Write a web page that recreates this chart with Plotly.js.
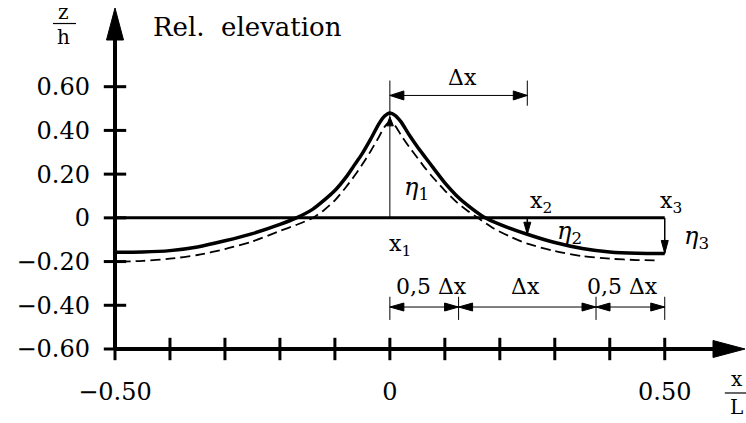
<!DOCTYPE html>
<html>
<head>
<meta charset="utf-8">
<script src="https://cdn.plot.ly/plotly-3.0.1.min.js"></script>
<style>
  html, body { margin: 0; padding: 0; background: #ffffff; }
  #chart { width: 746px; height: 423px; }
</style>
</head>
<body>
<div id="chart"></div>
<script>
// Relative elevation z/h along the reach x/L

// Solid profile (heavy line)
const profileX = [-0.50, -0.45, -0.40, -0.35, -0.30, -0.25, -0.20, -0.17, -0.14, -0.12, -0.10, -0.08, -0.065, -0.05,
                  -0.035, -0.02, -0.01, 0.0, 0.01, 0.02, 0.035, 0.05, 0.065, 0.08, 0.10, 0.12, 0.14, 0.17,
                  0.20, 0.25, 0.30, 0.35, 0.40, 0.45, 0.50];
const profileZ = [-0.157, -0.156, -0.150, -0.133, -0.105, -0.072, -0.030, 0.0, 0.04, 0.08, 0.125, 0.185, 0.24, 0.295,
                  0.36, 0.43, 0.465, 0.48, 0.468, 0.44, 0.38, 0.325, 0.275, 0.225, 0.16, 0.105, 0.06, 0.005,
                  -0.03, -0.075, -0.113, -0.14, -0.156, -0.162, -0.163];

// Dashed profile
const dashedX = [-0.49, -0.45, -0.40, -0.35, -0.30, -0.25, -0.20, -0.17, -0.14, -0.12, -0.10, -0.08, -0.065, -0.05,
                 -0.035, -0.02, -0.01, 0.0, 0.01, 0.02, 0.035, 0.05, 0.065, 0.08, 0.10, 0.12, 0.14, 0.16,
                 0.19, 0.22, 0.25, 0.30, 0.35, 0.40, 0.45, 0.49];
const dashedZ = [-0.200, -0.197, -0.187, -0.170, -0.143, -0.108, -0.060, -0.032, 0.0, 0.035, 0.08, 0.14, 0.19, 0.245,
                 0.305, 0.37, 0.415, 0.44, 0.42, 0.38, 0.325, 0.275, 0.225, 0.18, 0.125, 0.075, 0.035, 0.0,
                 -0.05, -0.087, -0.118, -0.152, -0.175, -0.187, -0.193, -0.195];

// Still-water datum
const datumX = [-0.50, 0.50];
const datumZ = [0, 0];

// Axis ticks and labels
const xTicks = [-0.5, -0.4, -0.3, -0.2, -0.1, 0, 0.1, 0.2, 0.3, 0.4, 0.5];
const xLabelVals = [-0.5, 0, 0.5];
const xLabels = ['\u22120.50', '0', '0.50'];
const yTicks = [-0.6, -0.4, -0.2, 0, 0.2, 0.4, 0.6];
const yLabels = ['\u22120.60', '\u22120.40', '\u22120.20', '0', '0.20', '0.40', '0.60'];

// Stations and spacing
const stationX1 = 0;
const deltaX = 0.25;
const stationX2 = stationX1 + deltaX;
const stationX3 = stationX2 + deltaX;
const eta1Tip = 0.462;
const eta2Tip = profileZ[profileX.indexOf(stationX2)];
const eta3Tip = profileZ[profileX.indexOf(stationX3)];

const X_MIN = -0.5, X_MAX = 0.646;
const Y_MIN = -0.6, Y_MAX = 0.96;

const FONT = 'DejaVu Serif';
const BLACK = '#000000';

// Dimension line levels
const topDimY = 0.56, topExtTop = 0.628, topExtBottom = 0.513;
const botDimY = -0.408, botExtTop = -0.361, botExtBottom = -0.467;
const botMarks = [stationX1, stationX1 + 0.5 * deltaX, stationX2 + 0.5 * deltaX, stationX3];

// Filled arrowhead drawn in pixel units around an anchor point
function arrowHead(xa, ya, dir, len, half, xref, yref) {
  const paths = {
    up:    `M0,0 L${-half},${-len} L${half},${-len} Z`,
    down:  `M0,0 L${-half},${len} L${half},${len} Z`,
    left:  `M0,0 L${len},${-half} L${len},${half} Z`,
    right: `M0,0 L${-len},${-half} L${-len},${half} Z`
  };
  return {
    type: 'path', xref: xref || 'x', yref: yref || 'y',
    xsizemode: 'pixel', ysizemode: 'pixel', xanchor: xa, yanchor: ya,
    path: paths[dir], fillcolor: BLACK, line: { color: BLACK, width: 1 }
  };
}

function seg(x0, y0, x1, y1, w, xref, yref) {
  return { type: 'line', xref: xref || 'x', yref: yref || 'y', x0: x0, y0: y0, x1: x1, y1: y1,
           line: { color: BLACK, width: w } };
}

const shapes = [
  // axes with arrows
  seg(0, 0, 0.965, 0, 4, 'paper', 'paper'),
  seg(0, 0, 0, 0.95, 4, 'paper', 'paper'),
  arrowHead(1, 0, 'right', 32, 8.5, 'paper', 'paper'),
  arrowHead(0, 1, 'up', 32, 8.5, 'paper', 'paper'),
  // eta1 and the Δx dimension above the crest
  seg(stationX1, 0, stationX1, topExtTop, 1),
  arrowHead(stationX1, eta1Tip, 'up', 9, 3.5),
  seg(stationX2, topExtBottom, stationX2, topExtTop, 1),
  seg(stationX1, topDimY, stationX2, topDimY, 1),
  arrowHead(stationX1, topDimY, 'left', 14, 4.5),
  arrowHead(stationX2, topDimY, 'right', 14, 4.5),
  // eta2, eta3
  seg(stationX2, 0, stationX2, eta2Tip, 1.5),
  arrowHead(stationX2, eta2Tip, 'down', 12, 3.5),
  seg(stationX3, 0, stationX3, eta3Tip, 1.5),
  arrowHead(stationX3, eta3Tip, 'down', 13, 3.5),
  // bottom chain of dimensions
  seg(botMarks[0], botDimY, botMarks[3], botDimY, 1),
  // fraction bars of the axis titles
  seg(-0.0984, 0.9545, -0.0619, 0.9545, 1.2, 'paper', 'paper'),
  seg(0.968, -0.129, 1.003, -0.129, 1.2, 'paper', 'paper')
];
botMarks.forEach(m => shapes.push(seg(m, botExtBottom, m, botExtTop, 1)));
for (let i = 0; i < 3; i++) {
  shapes.push(arrowHead(botMarks[i], botDimY, 'left', 14, 4));
  shapes.push(arrowHead(botMarks[i + 1], botDimY, 'right', 14, 4));
}

function label(text, x, y, size, extra) {
  return Object.assign({ text: text, x: x, y: y, xref: 'x', yref: 'y', showarrow: false,
    xanchor: 'center', yanchor: 'middle', font: { family: FONT, size: size || 22, color: BLACK } }, extra || {});
}

const annotations = [
  label('Rel.\u00a0\u00a0elevation', -0.435, 0.873, 26, { xanchor: 'left' }),
  label('z', -0.081, 0.988, 20, { xref: 'paper', yref: 'paper' }),
  label('h', -0.081, 0.914, 20, { xref: 'paper', yref: 'paper' }),
  label('x', 0.987, -0.089, 20, { xref: 'paper', yref: 'paper' }),
  label('L', 0.987, -0.170, 20, { xref: 'paper', yref: 'paper' }),
  label('\u0394x', 0.133, 0.641, 22),
  label('0,5 \u0394x', 0.0764, -0.312, 22),
  label('\u0394x', 0.246, -0.312, 22),
  label('0,5 \u0394x', 0.424, -0.312, 22),
  label('x<sub>1</sub>', 0.018, -0.125, 22),
  label('<i>\u03b7</i><sub>1</sub>', 0.049, 0.136, 24),
  label('x<sub>2</sub>', 0.275, 0.068, 22),
  label('<i>\u03b7</i><sub>2</sub>', 0.327, -0.065, 24),
  label('x<sub>3</sub>', 0.511, 0.068, 22),
  label('<i>\u03b7</i><sub>3</sub>', 0.557, -0.088, 24)
];

const traces = [
  { x: datumX, y: datumZ, type: 'scatter', mode: 'lines', cliponaxis: false,
    line: { color: BLACK, width: 3 } },
  { x: dashedX, y: dashedZ, type: 'scatter', mode: 'lines', cliponaxis: false,
    line: { color: BLACK, width: 1.8, dash: '10px,5px', shape: 'spline', smoothing: 0.7 } },
  { x: profileX, y: profileZ, type: 'scatter', mode: 'lines', cliponaxis: false,
    line: { color: BLACK, width: 3.5, shape: 'spline', smoothing: 0.7 } },
  // tick marks crossing the axes
  { x: xTicks, y: xTicks.map(() => Y_MIN), type: 'scatter', mode: 'markers', cliponaxis: false,
    marker: { symbol: 'line-ns', size: 16, color: BLACK, line: { color: BLACK, width: 3 } } },
  { x: yTicks.map(() => X_MIN), y: yTicks, type: 'scatter', mode: 'markers', cliponaxis: false,
    marker: { symbol: 'line-ew', size: 16, color: BLACK, line: { color: BLACK, width: 3 } } }
];

const layout = {
  width: 746, height: 423,
  margin: { l: 115, r: 1, t: 8, b: 74, pad: 0 },
  paper_bgcolor: '#ffffff', plot_bgcolor: '#ffffff',
  showlegend: false, hovermode: false,
  xaxis: {
    range: [X_MIN, X_MAX], tickvals: xLabelVals, ticktext: xLabels,
    showgrid: false, zeroline: false, showline: false, ticks: '',
    ticklabelstandoff: 26,
    tickfont: { family: FONT, size: 24, color: BLACK }
  },
  yaxis: {
    range: [Y_MIN, Y_MAX], tickvals: yTicks, ticktext: yLabels,
    showgrid: false, zeroline: false, showline: false, ticks: '',
    ticklabelstandoff: 24,
    tickfont: { family: FONT, size: 24, color: BLACK }
  },
  shapes: shapes,
  annotations: annotations
};

Plotly.newPlot('chart', traces, layout, { staticPlot: true, displayModeBar: false });
</script>
</body>
</html>
